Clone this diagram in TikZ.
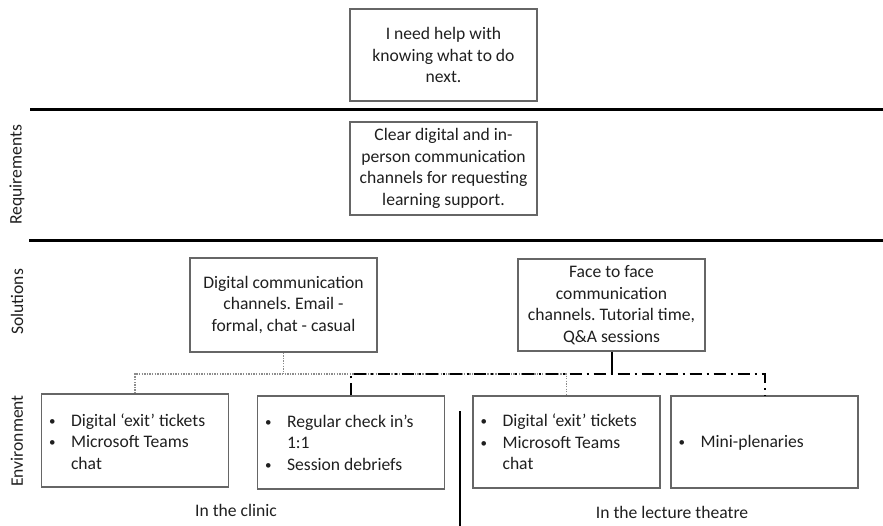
\documentclass[tikz,border=0pt]{standalone}
\usepackage{fontspec}
\setmainfont{Carlito}
\usepackage{array}
\frenchspacing
% small list bullet
\newcommand{\dotmark}{\hspace{2.5pt}\raisebox{1.2pt}{\fontsize{13}{13}\selectfont\textbullet}}
\begin{document}
\begin{tikzpicture}[x=1pt,y=-1pt,
  txt/.style={font=\fontsize{17.6}{21.5}\selectfont, text=black!88},
  box/.style={draw=black!60, line width=1.3pt, minimum width=187pt,
    minimum height=92pt, inner sep=0pt, txt, align=center},
  listtext/.style={txt, anchor=west, inner sep=0pt},
  rule/.style={line width=2.2pt, black},
  sidelabel/.style={txt, rotate=90},
  dotline/.style={draw=black!45, line width=1.3pt, dash pattern=on 1.3pt off 1.3pt},
  dashdot/.style={draw=black, line width=2pt, dash pattern=on 12pt off 5pt on 2pt off 5pt},
  stem/.style={draw=black, line width=2pt}
]
\useasboundingbox (0,0) rectangle (883,526);

% section rules
\draw[rule] (30,109.5) -- (883,109.5);
\draw[rule] (29,240.5) -- (883,240.5);

% row labels
\node[sidelabel] (lreq) at (17,175) {Requirements};
\node[sidelabel] (lsol) at (17,302) {Solutions};
\node[sidelabel] (lenv) at (17,441) {Environment};

% need and requirement
\node[box] (need) at (443.5,55) {I need help with\\knowing what to do\\next.};
\node[box, minimum height=93pt] (req) at (443.5,168.5) {Clear digital and in-\\person communication\\channels for requesting\\learning support.};

% solutions
\node[box, minimum height=94pt] (dig) at (283.5,305) {Digital communication\\channels. Email -\\formal, chat - casual};
\node[box] (f2f) at (611.5,305) {Face to face\\communication\\channels. Tutorial time,\\Q\&A sessions};

% environment boxes
\node[box, minimum height=93pt] (e1) at (135,440.5) {};
\node[box, minimum height=93pt] (e2) at (351,442.5) {};
\node[box] (e3) at (566.5,442) {};
\node[box] (e4) at (764.5,442) {};

\node[listtext] (t1) at ([xshift=5.5pt,yshift=-3pt]e1.west) {%
  \begin{tabular}{@{}p{24.5pt}@{}l@{}}
  \dotmark & Digital ‘exit’ tickets\\
  \dotmark & Microsoft Teams\\
  & chat
  \end{tabular}};
\node[listtext] (t2) at ([xshift=5.5pt,yshift=-2pt]e2.west) {%
  \begin{tabular}{@{}p{24.5pt}@{}l@{}}
  \dotmark & Regular check in’s\\
  & 1:1\\
  \dotmark & Session debriefs
  \end{tabular}};
\node[listtext] (t3) at ([xshift=5.5pt,yshift=-2pt]e3.west) {%
  \begin{tabular}{@{}p{24.5pt}@{}l@{}}
  \dotmark & Digital ‘exit’ tickets\\
  \dotmark & Microsoft Teams\\
  & chat
  \end{tabular}};
\node[listtext] (t4) at ([xshift=5.5pt,yshift=-1pt]e4.west) {%
  \begin{tabular}{@{}p{24.5pt}@{}l@{}}
  \dotmark & Mini-plenaries
  \end{tabular}};

% divider between settings
\coordinate (divtop) at (460,411);
\coordinate (divbot) at (460,526);
\draw[line width=2pt] (divtop) -- (divbot);

\node[txt] (clinic) at (236,510) {In the clinic};
\node[txt] (theatre) at (672,512) {In the lecture theatre};

% connectors
\coordinate (jd) at (283.5,374);
\draw[dotline] (dig.south) -- (dig.south |- jd);
\draw[dotline] (e1.north) -- (e1.north |- jd) -- (e3.north |- jd) -- (e3.north);
\draw[stem] (f2f.south) -- (f2f.south |- jd);
\draw[dashdot] (e2.north) -- (e2.north |- jd) -- (e4.north |- jd) -- (e4.north);
\end{tikzpicture}
\end{document}
